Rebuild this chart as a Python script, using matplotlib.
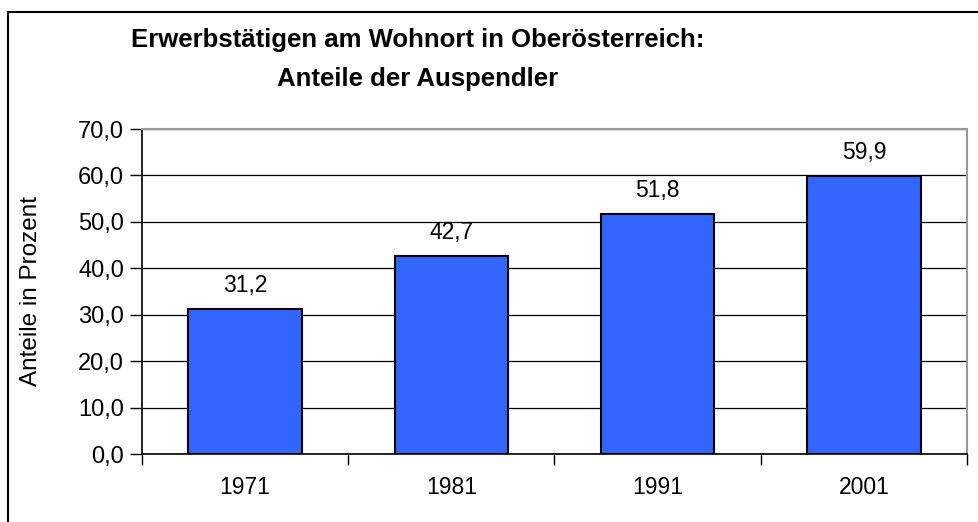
import matplotlib
matplotlib.use("Agg")
import matplotlib.pyplot as plt
from matplotlib.patches import Rectangle
from matplotlib.ticker import FixedLocator, FuncFormatter

plt.rcParams['font.family'] = ['Liberation Sans', 'DejaVu Sans']

# ---- data ----
years = ["1971", "1981", "1991", "2001"]
shares = [31.2, 42.7, 51.8, 59.9]
y_ticks = [0, 10, 20, 30, 40, 50, 60, 70]
title_lines = ["Erwerbstätigen am Wohnort in Oberösterreich:", "Anteile der Auspendler"]

W, H = 979, 522
fig = plt.figure(figsize=(W / 100, H / 100), dpi=100)

# figure frame (left/top visible, right/bottom run off the picture)
fig.patches.append(Rectangle((8 / W, -0.1), 1.2, 1.1 - 12 / H,
                             transform=fig.transFigure, fill=False,
                             edgecolor='black', linewidth=1.5, zorder=0))

ax = fig.add_axes([142 / W, 1 - 454 / H, (967 - 142) / W, (454 - 129) / H])

x = list(range(len(years)))
ax.bar(x, shares, width=0.55, color='#3366FF', edgecolor='black',
       linewidth=1.5, zorder=3)

for xi, v in zip(x, shares):
    ax.annotate(f"{v:.1f}".replace('.', ','), (xi, v), textcoords="offset points",
                xytext=(0, 8.5), ha='center', va='bottom', fontsize=16.5)

ax.set_xlim(-0.5, len(years) - 0.5)
ax.set_ylim(0, 70)

ax.yaxis.set_major_locator(FixedLocator(y_ticks))
ax.yaxis.set_major_formatter(FuncFormatter(lambda v, p: f"{v:.1f}".replace('.', ',')))
ax.grid(axis='y', color='black', linewidth=0.9, zorder=1)

# category boundary ticks, labels in the middle
ax.xaxis.set_major_locator(FixedLocator([i - 0.5 for i in range(len(years) + 1)]))
ax.xaxis.set_major_formatter(FuncFormatter(lambda v, p: ""))
ax.xaxis.set_minor_locator(FixedLocator(x))
ax.set_xticklabels(years, minor=True)
ax.tick_params(axis='x', which='major', length=8, width=1, color='black', direction='out')
ax.tick_params(axis='x', which='minor', length=0, pad=16, labelsize=16.5)
ax.tick_params(axis='y', length=9, width=1, direction='out', pad=4, labelsize=17)

for side in ('left', 'bottom'):
    ax.spines[side].set_color('black')
    ax.spines[side].set_linewidth(1.2)
for side in ('top', 'right'):
    ax.spines[side].set_color('#999999')
    ax.spines[side].set_linewidth(1.5)

ax.set_ylabel("Anteile in Prozent", fontsize=17.5)
ax.yaxis.set_label_coords(-100 / (967 - 142), 0.5)

for line, ypx in zip(title_lines, (40, 79)):
    fig.text(418 / W, 1 - ypx / H, line, ha='center', va='center',
             fontsize=18.5, fontweight='bold')

fig.savefig("out.png", dpi=100)
